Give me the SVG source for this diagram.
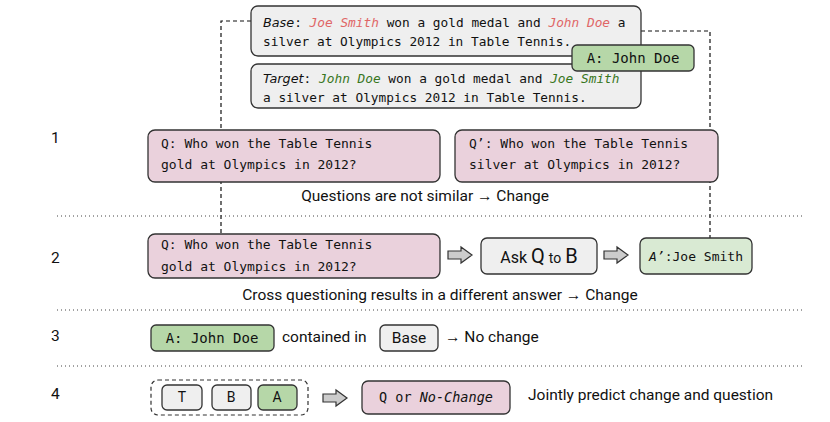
<svg xmlns="http://www.w3.org/2000/svg" width="830" height="422" viewBox="0 0 830 422">
<style>
.box{stroke:#333;stroke-width:1.3}
.gray{fill:#efefef}
.pink{fill:#ead1dc}
.lg{fill:#d9ead3}
.mg{fill:#b6d7a8}
.mono{font-family:"DejaVu Sans Mono",monospace;font-size:12.8px;fill:#111}
.sans{font-family:Roboto,"Liberation Sans",sans-serif;font-size:15.5px;fill:#111}
.it{font-family:"DejaVu Sans","Liberation Sans",sans-serif;font-style:italic}
.red{fill:#e06666;font-style:italic}
.grn{fill:#38761d;font-style:italic}
.dot{stroke:#444;stroke-width:1;stroke-dasharray:1 3;fill:none}
.dash{stroke:#111;stroke-width:1.2;stroke-dasharray:4 3;fill:none}
.arr{fill:#cccccc;stroke:#333;stroke-width:1.2}
</style>
<defs>
<path id="barrow" d="M0,-4 L13,-4 L13,-8 L24,0 L13,8 L13,4 L0,4 Z"/>
</defs>
<g id="connectors">
<path class="dash" d="M251,21 H221 V234"/>
<path class="dash" d="M641,31 H710 V238"/>
<use href="#barrow" class="arr" x="448" y="255"/>
<use href="#barrow" class="arr" x="604" y="255"/>
<use href="#barrow" class="arr" x="323" y="398"/>
</g>
<g id="separators">
<line class="dot" x1="57" y1="216" x2="803" y2="216"/>
<line class="dot" x1="57" y1="310" x2="803" y2="310"/>
<line class="dot" x1="57" y1="366" x2="803" y2="366"/>
</g>
<g id="labels">
<text class="sans" x="51" y="143">1</text>
<text class="sans" x="51" y="263">2</text>
<text class="sans" x="51" y="341">3</text>
<text class="sans" x="51" y="399">4</text>
</g>
<g id="base">
<rect class="box gray" x="251" y="6" width="390" height="50" rx="7"/>
<text class="mono" x="263" y="27"><tspan class="it">Base</tspan>: <tspan class="red">Joe Smith</tspan> won a gold medal and <tspan class="red">John Doe</tspan> a</text>
<text class="mono" x="263" y="46">silver at Olympics 2012 in Table Tennis.</text>
</g>
<g id="target">
<rect class="box gray" x="251" y="64" width="390" height="44" rx="7"/>
<text class="mono" x="263" y="83"><tspan class="it">Target</tspan>: <tspan class="grn">John Doe</tspan> won a gold medal and <tspan class="grn">Joe Smith</tspan></text>
<text class="mono" x="263" y="102">a silver at Olympics 2012 in Table Tennis.</text>
</g>
<g id="answer-top">
<rect class="box mg" x="572" y="45" width="122" height="26" rx="5"/>
<text class="mono" x="633" y="63" text-anchor="middle" style="font-size:14px">A: John Doe</text>
</g>
<g id="q1">
<rect class="box pink" x="148" y="130" width="292" height="52" rx="7"/>
<text class="mono" x="161" y="148" style="font-size:13px">Q: Who won the Table Tennis</text>
<text class="mono" x="161" y="169" style="font-size:13px">gold at Olympics in 2012?</text>
</g>
<g id="q1prime">
<rect class="box pink" x="455" y="130" width="263" height="52" rx="7"/>
<text class="mono" x="469" y="148" style="font-size:13px">Q’: Who won the Table Tennis</text>
<text class="mono" x="469" y="169" style="font-size:13px">silver at Olympics in 2012?</text>
</g>
<text class="sans" x="425" y="201" text-anchor="middle">Questions are not similar → Change</text>
<g id="q2">
<rect class="box pink" x="148" y="234" width="292" height="44" rx="7"/>
<text class="mono" x="161" y="249" style="font-size:13px">Q: Who won the Table Tennis</text>
<text class="mono" x="161" y="271" style="font-size:13px">gold at Olympics in 2012?</text>
</g>
<g id="ask">
<rect class="box gray" x="481" y="238" width="116" height="36" rx="6"/>
<text class="sans" x="539" y="263" text-anchor="middle" style="font-size:16px">Ask <tspan style="font-size:20px">Q</tspan> <tspan style="font-size:14px">to</tspan> <tspan style="font-size:20px">B</tspan></text>
</g>
<g id="aprime">
<rect class="box lg" x="640" y="238" width="112" height="36" rx="6"/>
<text class="mono" x="696" y="261" text-anchor="middle" style="font-size:13px"><tspan font-style="italic">A’</tspan>:Joe Smith</text>
</g>
<text class="sans" x="440" y="300" text-anchor="middle">Cross questioning results in a different answer  → Change</text>
<g id="answer3">
<rect class="box mg" x="151" y="325" width="123" height="26" rx="5"/>
<text class="mono" x="212" y="343" text-anchor="middle" style="font-size:14px">A: John Doe</text>
</g>
<text class="sans" x="282" y="342">contained in</text>
<g id="basebox">
<rect class="box gray" x="380" y="325" width="58" height="26" rx="5"/>
<text class="sans" x="409" y="343" text-anchor="middle">Base</text>
</g>
<text class="sans" x="445" y="342">→ No change</text>
<g id="inputs">
<rect x="151" y="380" width="157" height="35" rx="7" fill="#fff" stroke="#333" stroke-width="1.2" stroke-dasharray="4 3"/>
<rect class="box gray" x="162" y="385" width="40" height="25" rx="5"/>
<text class="sans" x="182" y="402" text-anchor="middle" style="font-size:14px">T</text>
<rect class="box gray" x="212" y="385" width="39" height="25" rx="5"/>
<text class="sans" x="231" y="402" text-anchor="middle" style="font-size:14px">B</text>
<rect class="box mg" x="258" y="385" width="39" height="25" rx="5"/>
<text class="sans" x="277" y="402" text-anchor="middle" style="font-size:14px">A</text>
</g>
<g id="output">
<rect class="box pink" x="362" y="381" width="148" height="33" rx="6"/>
<text class="mono" x="436" y="402" text-anchor="middle" style="font-size:13.5px">Q or <tspan font-style="italic">No-Change</tspan></text>
</g>
<text class="sans" x="528" y="400">Jointly predict change and question</text>
</svg>
